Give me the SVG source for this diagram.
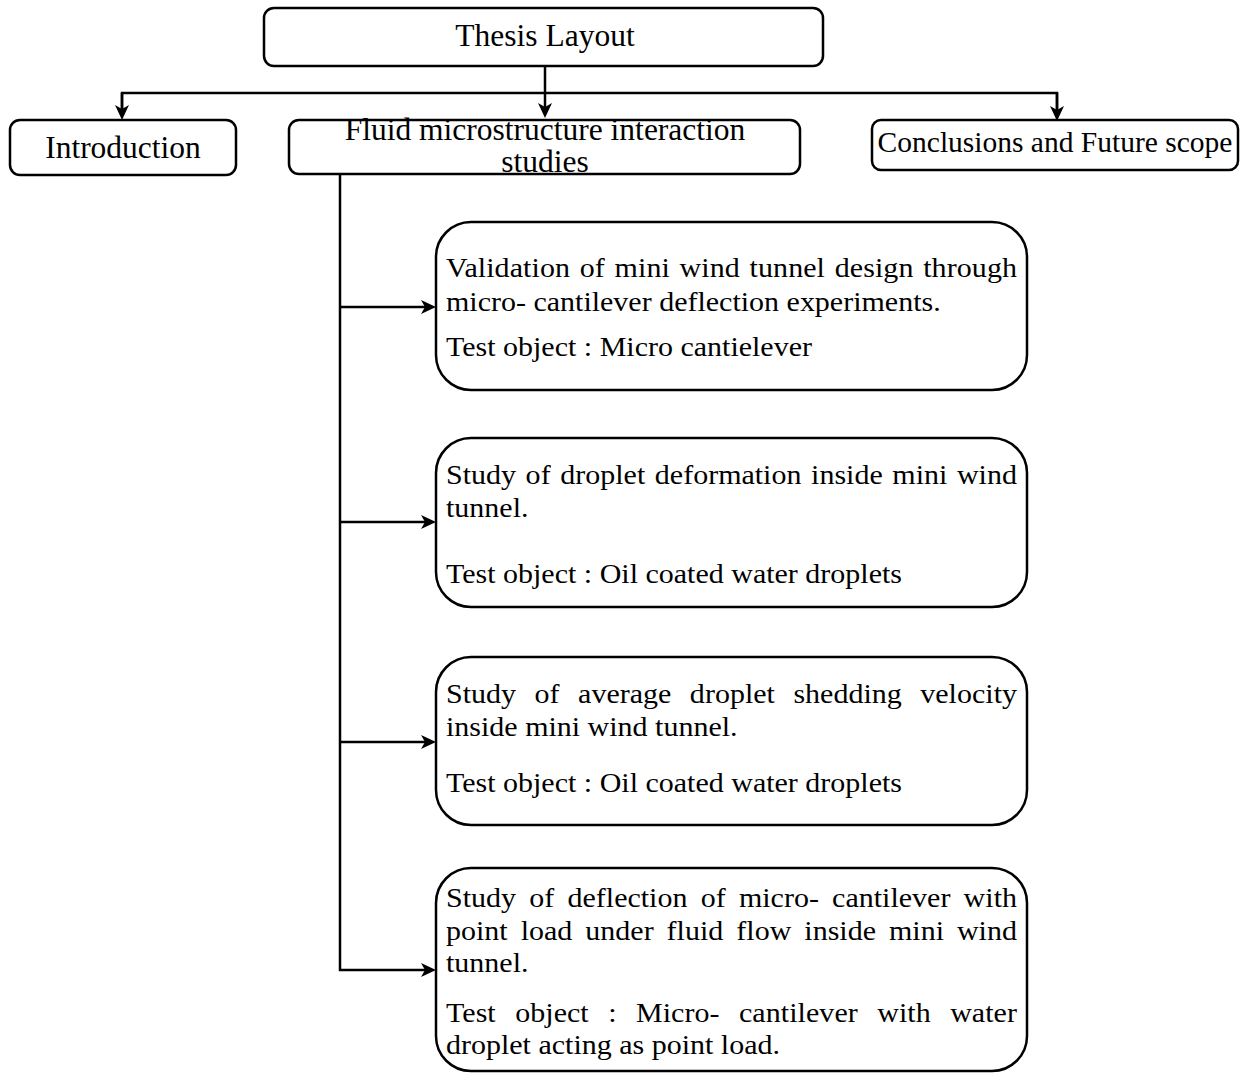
<svg xmlns="http://www.w3.org/2000/svg" width="1248" height="1074" viewBox="0 0 1248 1074">
<style>
  .box { fill: #ffffff; stroke: #000000; stroke-width: 2.5; }
  .hdr { font-family: "Liberation Serif", "Times New Roman", serif; font-size: 31.5px; fill: #000; }
  .txt { font-family: "Liberation Serif", "Times New Roman", serif; font-size: 26.5px; fill: #000; }
  .conn { fill: none; stroke: #000; stroke-width: 2.5; }
</style>
<defs>
  <marker id="arr" viewBox="-16 -8 17 16" refX="-10" refY="0" markerWidth="17" markerHeight="16" markerUnits="userSpaceOnUse" orient="auto">
    <path d="M0,0 L-15,-7 L-11,0 L-15,7 Z" fill="#000"/>
  </marker>
</defs>
<rect width="1248" height="1074" fill="#ffffff"/>

<g id="connectors">
  <line class="conn" x1="545" y1="66" x2="545" y2="108" marker-end="url(#arr)"/>
  <polyline class="conn" points="122,110 122,93 1057,93 1057,111"/>
  <line class="conn" x1="122" y1="93" x2="122" y2="110" marker-end="url(#arr)"/>
  <line class="conn" x1="1057" y1="93" x2="1057" y2="111" marker-end="url(#arr)"/>
  <polyline class="conn" points="340,175 340,970 426,970" marker-end="url(#arr)"/>
  <line class="conn" x1="340" y1="307" x2="426" y2="307" marker-end="url(#arr)"/>
  <line class="conn" x1="340" y1="522" x2="426" y2="522" marker-end="url(#arr)"/>
  <line class="conn" x1="340" y1="742" x2="426" y2="742" marker-end="url(#arr)"/>
</g>

<g id="thesis">
  <rect class="box" x="264" y="8" width="559" height="58" rx="10"/>
  <text class="hdr" x="545" y="46" text-anchor="middle">Thesis Layout</text>
</g>

<g id="introduction">
  <rect class="box" x="10" y="120" width="226" height="55" rx="10"/>
  <text class="hdr" x="123" y="158" text-anchor="middle">Introduction</text>
</g>

<g id="fluid">
  <rect class="box" x="289" y="120" width="511" height="54" rx="10"/>
  <text class="hdr" x="545" y="140" text-anchor="middle">Fluid microstructure interaction</text>
  <text class="hdr" x="545" y="172" text-anchor="middle">studies</text>
</g>

<g id="conclusions">
  <rect class="box" x="872" y="120" width="366" height="50" rx="9"/>
  <text class="hdr" x="1055" y="152" text-anchor="middle" style="font-size:29.5px">Conclusions and Future scope</text>
</g>

<g id="box1">
  <rect class="box" x="436" y="222" width="591" height="168" rx="35"/>
  <g transform="matrix(1.132,0,0,1,446,0)">
    <text class="txt" x="0" y="277" style="word-spacing:1.87px" textLength="504.4" lengthAdjust="spacing">Validation of mini wind tunnel design through</text>
    <text class="txt" x="0" y="311">micro- cantilever deflection experiments.</text>
    <text class="txt" x="0" y="356">Test object : Micro cantielever</text>
  </g>
</g>

<g id="box2">
  <rect class="box" x="436" y="438" width="591" height="169" rx="35"/>
  <g transform="matrix(1.132,0,0,1,446,0)">
    <text class="txt" x="0" y="484" style="word-spacing:1.87px" textLength="504.4" lengthAdjust="spacing">Study of droplet deformation inside mini wind</text>
    <text class="txt" x="0" y="517">tunnel.</text>
    <text class="txt" x="0" y="583">Test object : Oil coated water droplets</text>
  </g>
</g>

<g id="box3">
  <rect class="box" x="436" y="657" width="591" height="168" rx="35"/>
  <g transform="matrix(1.132,0,0,1,446,0)">
    <text class="txt" x="0" y="703" style="word-spacing:9.72px" textLength="504.4" lengthAdjust="spacing">Study of average droplet shedding velocity</text>
    <text class="txt" x="0" y="736">inside mini wind tunnel.</text>
    <text class="txt" x="0" y="792">Test object : Oil coated water droplets</text>
  </g>
</g>

<g id="box4">
  <rect class="box" x="436" y="868" width="591" height="203" rx="35"/>
  <g transform="matrix(1.132,0,0,1,446,0)">
    <text class="txt" x="0" y="907" style="word-spacing:5.06px" textLength="504.4" lengthAdjust="spacing">Study of deflection of micro- cantilever with</text>
    <text class="txt" x="0" y="940" style="word-spacing:4.86px" textLength="504.4" lengthAdjust="spacing">point load under fluid flow inside mini wind</text>
    <text class="txt" x="0" y="972">tunnel.</text>
    <text class="txt" x="0" y="1022" style="word-spacing:10.47px" textLength="504.4" lengthAdjust="spacing">Test object : Micro- cantilever with water</text>
    <text class="txt" x="0" y="1054">droplet acting as point load.</text>
  </g>
</g>
</svg>
